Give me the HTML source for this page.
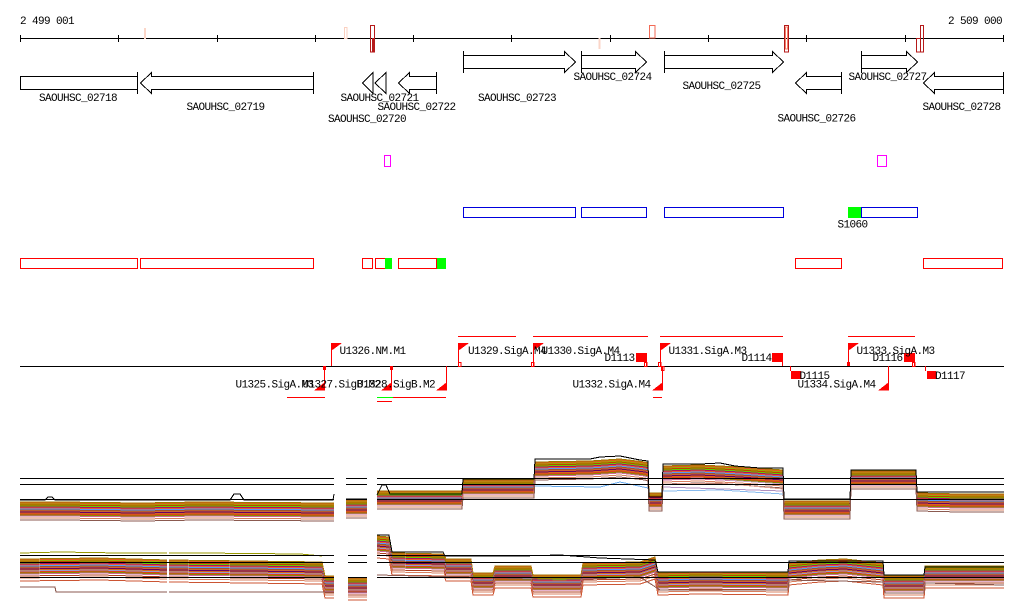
<!DOCTYPE html>
<html><head><meta charset="utf-8"><style>
html,body{margin:0;padding:0;background:#fff;}
svg{display:block;}
text{font-family:"Liberation Mono","DejaVu Sans Mono",monospace;font-size:11px;letter-spacing:-0.6px;fill:#000;}
</style></head><body>
<svg width="1024" height="611" viewBox="0 0 1024 611" xmlns="http://www.w3.org/2000/svg">
<rect width="1024" height="611" fill="#fff"/>
<defs>
<path id="T" fill="none" d="M20,502 L60,502 L140,503 L200,502 L334,503 M346,500 L367,500 M377,491 L462,491 L463,480 L534,480 L535,462 L590,461 L620,459 L645,462 L648,463 L649,493 L662,493 L663,466 L700,465 L720,466 L740,467 L783,470 L784,501 L850,501 L851,471 L916,471 L917,493 L960,494 L1004,494"/>
<path id="B" fill="none" d="M20,559 L100,558 L168,560 L250,561 L322,562 L325,576 L334,576 M348,578 L367,578 M377,536 L389,537 L392,553 L444,554 L446,559 L471,559 L473,573 L493,573 L495,566 L531,566 L533,575 L581,575 L583,563 L640,562 L655,557 L658,573 L700,572 L788,573 L789,563 L820,560 L845,559 L883,563 L884,576 L924,576 L925,566 L1004,566"/>
</defs>
<g shape-rendering="crispEdges">
<!-- axis -->
<g stroke="#000" stroke-width="1">
<line x1="20" y1="38.5" x2="1004" y2="38.5"/>
<path d="M20.5,35V42M118.5,35V42M217.5,35V42M315.5,35V42M413.5,35V42M511.5,35V42M610.5,35V42M708.5,35V42M806.5,35V42M905.5,35V42M1003.5,35V42"/>
</g>
<rect x="144" y="28" width="2" height="11" fill="#fbd6c8"/>
<rect x="344.5" y="27.5" width="2.5" height="11" fill="none" stroke="#fbd0c0"/>
<rect x="372" y="38" width="2" height="14" fill="#b51a1a"/>
<rect x="370.5" y="25.5" width="4" height="26.5" fill="none" stroke="#b51a1a"/>
<rect x="598.5" y="38" width="2" height="11" fill="#fbd6c8"/>
<rect x="649.5" y="25.5" width="5.5" height="12.5" fill="none" stroke="#f26a56"/>
<rect x="784.5" y="25.5" width="4" height="26.5" fill="none" stroke="#b51a1a"/>
<rect x="785.5" y="27" width="2" height="22" fill="none" stroke="#f4806a"/>
<rect x="916.5" y="38.5" width="4" height="13.5" fill="none" stroke="#b51a1a"/>
<rect x="920.5" y="25.5" width="3" height="26.5" fill="none" stroke="#b51a1a"/>

<!-- genes -->
<g fill="#fff" stroke="#000" stroke-width="1">
<rect x="20.5" y="76.5" width="117" height="13"/>
<line x1="137.5" y1="72" x2="137.5" y2="94"/>
<polygon points="140.5,83 151.5,72.5 151.5,76.5 313.5,76.5 313.5,89.5 151.5,89.5 151.5,93.5"/>
<line x1="313.5" y1="72" x2="313.5" y2="94"/>
<polygon points="362.5,83 373,72.5 373,93.5"/>
<polygon points="375,83 386,72.5 386,93.5"/>
<polygon points="398.5,83 409.5,72.5 409.5,76.5 436.5,76.5 436.5,89.5 409.5,89.5 409.5,93.5"/>
<line x1="436.5" y1="72" x2="436.5" y2="94"/>
<polygon points="795.5,83 806.5,72.5 806.5,76.5 841.5,76.5 841.5,89.5 806.5,89.5 806.5,93.5"/>
<line x1="841.5" y1="72" x2="841.5" y2="94"/>
<polygon points="923.5,83 934.5,72.5 934.5,76.5 1003.5,76.5 1003.5,89.5 934.5,89.5 934.5,93.5"/>
<line x1="1003.5" y1="72" x2="1003.5" y2="94"/>

<polygon points="463.5,55.5 564.5,55.5 564.5,51.5 575.5,62 564.5,72.5 564.5,68.5 463.5,68.5"/>
<line x1="463.5" y1="51" x2="463.5" y2="73"/>
<polygon points="581.5,55.5 635.5,55.5 635.5,51.5 646.5,62 635.5,72.5 635.5,68.5 581.5,68.5"/>
<line x1="581.5" y1="51" x2="581.5" y2="73"/>
<polygon points="664.5,55.5 772.5,55.5 772.5,51.5 783.5,62 772.5,72.5 772.5,68.5 664.5,68.5"/>
<line x1="664.5" y1="51" x2="664.5" y2="73"/>
<polygon points="861.5,55.5 906.5,55.5 906.5,51.5 917.5,62 906.5,72.5 906.5,68.5 861.5,68.5"/>
<line x1="861.5" y1="51" x2="861.5" y2="73"/>
</g>

<!-- magenta -->
<g fill="none" stroke="#ff00ff" stroke-width="1">
<rect x="384.5" y="155.5" width="6" height="11"/>
<rect x="877.5" y="155.5" width="9" height="11"/>
</g>
<!-- blue row -->
<g fill="none" stroke="#0000dd" stroke-width="1">
<rect x="463.5" y="207.5" width="112" height="10"/>
<rect x="581.5" y="207.5" width="65" height="10"/>
<rect x="664.5" y="207.5" width="119" height="10"/>
<rect x="861.5" y="207.5" width="56" height="10"/>
</g>
<rect x="848" y="207" width="13" height="11" fill="#00ff00"/>

<!-- red row -->
<g fill="none" stroke="#ff0000" stroke-width="1">
<rect x="20.5" y="258.5" width="117" height="10"/>
<rect x="140.5" y="258.5" width="173" height="10"/>
<rect x="362.5" y="258.5" width="10" height="10"/>
<rect x="375.5" y="258.5" width="10" height="10"/>
<rect x="398.5" y="258.5" width="38" height="10"/>
<rect x="795.5" y="258.5" width="46" height="10"/>
<rect x="923.5" y="258.5" width="79" height="10"/>
</g>
<rect x="385" y="258" width="7" height="11" fill="#00ff00"/>
<rect x="437" y="258" width="9" height="11" fill="#00ff00"/>

<!-- transcripts -->
<line x1="20" y1="366.5" x2="1004" y2="366.5" stroke="#000"/>
<g stroke="#ff0000" stroke-width="1" fill="none">
<path d="M458,336.5H516M533,336.5H648M660,336.5H783M848,336.5H915"/>
<path d="M287,397.5H325M393,397.5H446M377,401.5H392M653,397.5H662"/>
<path d="M331.5,343V366M458.5,343V366M533.5,343V366M660.5,343V366M848.5,343V366"/>
<path d="M324.5,366V390M391.5,366V390M446.5,366V390M662.5,366V390M888.5,366V390"/>
<path d="M646.5,362V366M782.5,362V366M914.5,362V366M790.5,366V371M925.5,366V371"/>
<rect x="458.5" y="362.5" width="2.5" height="4"/>
<rect x="531.5" y="362.5" width="2.5" height="4"/>
<rect x="644.5" y="362.5" width="2.5" height="4"/>
<rect x="658.5" y="362.5" width="2.5" height="4"/>
<rect x="661.5" y="366.5" width="2.5" height="4"/>
<rect x="912.5" y="362.5" width="2.5" height="4"/>
</g>
<line x1="377" y1="397.5" x2="393" y2="397.5" stroke="#00ff00"/>
<g fill="#ff0000">
<polygon points="331,343 342,343 331,351"/>
<polygon points="458,343 469,343 458,351"/>
<polygon points="533,343 544,343 533,351"/>
<polygon points="660,343 671,343 660,351"/>
<polygon points="848,343 859,343 848,351"/>
<polygon points="314,390.5 325,382 325,390.5"/>
<polygon points="381,390.5 392,382 392,390.5"/>
<polygon points="436,390.5 447,382 447,390.5"/>
<polygon points="652,390.5 663,382 663,390.5"/>
<polygon points="878,390.5 889,382 889,390.5"/>
<rect x="323" y="366" width="3" height="4"/>
<rect x="390" y="366" width="3" height="4"/>
<rect x="847" y="362" width="3" height="4"/>
<rect x="636" y="353" width="11" height="9"/>
<rect x="772" y="353" width="11" height="9"/>
<rect x="904" y="353" width="11" height="9"/>
<rect x="791" y="371" width="10" height="8"/>
<rect x="927" y="371" width="9" height="8"/>
</g>

<!-- data track top -->
<g stroke-width="1" fill="none">
<use href="#T" stroke="#9c7a00" transform="translate(0,0)"/>
<use href="#T" stroke="#e05a20" transform="translate(0,1)"/>
<use href="#T" stroke="#99aa00" transform="translate(0,2)"/>
<use href="#T" stroke="#c04000" transform="translate(0,3)"/>
<use href="#T" stroke="#66cc00" transform="translate(0,4)"/>
<use href="#T" stroke="#aa1166" transform="translate(0,5)"/>
<use href="#T" stroke="#e86030" transform="translate(0,6)"/>
<use href="#T" stroke="#5599ff" transform="translate(0,7)"/>
<use href="#T" stroke="#a0522d" transform="translate(0,8)"/>
<use href="#T" stroke="#cc6633" transform="translate(0,9)"/>
<use href="#T" stroke="#660066" transform="translate(0,10)"/>
<use href="#T" stroke="#d2691e" transform="translate(0,11)"/>
<use href="#T" stroke="#e0401a" transform="translate(0,12)"/>
<use href="#T" stroke="#888800" transform="translate(0,13)"/>
<use href="#T" stroke="#cc6699" transform="translate(0,14)"/>
<use href="#T" stroke="#d98060" transform="translate(0,16)"/>
<use href="#T" stroke="#8b5a50" transform="translate(0,18)"/>
<path stroke="#66aaee" d="M535,486 L600,487 L620,482 L648,488"/>
<path stroke="#c8a0c0" d="M663,479 L700,478 L740,481 L783,484"/>
<path stroke="#e0a090" d="M663,484 L720,483 L783,489"/>
<path stroke="#88bbee" d="M663,491 L720,490 L783,494"/>
<path stroke="#b090c0" d="M663,487 L783,491"/>
<path stroke="#000" d="M20,500 L45,500 L48,497 L52,497 L55,500 L230,500 L234,494 L240,494 L244,500 L333,500 L334,494 M346,499 L367,499 M377,495 L382,485 L386,485 L390,494 L462,494 L463,479 L534,479 L535,459 L590,459 L600,457 L620,456 L640,460 L648,461 L649,497 L662,497 L663,464 L700,464 L720,463 L735,466 L760,468 L783,468 L784,499 L850,499 L851,470 L916,470 L917,492 L1004,492"/>
</g>
<!-- data track bottom -->
<g stroke-width="1" fill="none">
<use href="#B" stroke="#9c7a00" transform="translate(0,0)"/>
<use href="#B" stroke="#e05a20" transform="translate(0,1)"/>
<use href="#B" stroke="#99aa00" transform="translate(0,2)"/>
<use href="#B" stroke="#c04000" transform="translate(0,3)"/>
<use href="#B" stroke="#66cc00" transform="translate(0,4)"/>
<use href="#B" stroke="#aa1166" transform="translate(0,5)"/>
<use href="#B" stroke="#e86030" transform="translate(0,6)"/>
<use href="#B" stroke="#5599ff" transform="translate(0,7)"/>
<use href="#B" stroke="#a0522d" transform="translate(0,8)"/>
<use href="#B" stroke="#cc6633" transform="translate(0,9)"/>
<use href="#B" stroke="#660066" transform="translate(0,10)"/>
<use href="#B" stroke="#d2691e" transform="translate(0,11)"/>
<use href="#B" stroke="#9999cc" transform="translate(0,12)"/>
<use href="#B" stroke="#e0401a" transform="translate(0,13)"/>
<use href="#B" stroke="#888800" transform="translate(0,14)"/>
<use href="#B" stroke="#cc6699" transform="translate(0,15)"/>
<use href="#B" stroke="#b04020" transform="translate(0,17)"/>
<use href="#B" stroke="#d98060" transform="translate(0,19)"/>
<use href="#B" stroke="#cc5533" transform="translate(0,22)"/>
<path stroke="#8b5a50" d="M20,587 L55,587 L56,592 L334,592 M348,592 L367,592 M377,575 L500,578 L560,580 L640,577 L660,590 L788,590 L789,580 L883,582 L885,593 L924,593 L925,583 L1004,585"/>
<path stroke="#999900" d="M20,553 L60,552 L120,553 L200,553 L300,554 L322,556"/>
<path stroke="#000" d="M377,535 L389,535 L392,552 L443,552 L445,556 L520,556 L560,555 L600,558 L655,560 L658,572 L788,572 L789,561 L883,561 L884,575 L924,575 L925,567 L1004,567"/>
</g>
<rect x="167" y="545" width="2" height="52" fill="#fff"/>
<!-- reference lines -->
<g stroke="#000" stroke-width="1">
<path d="M20,478.5H334M346,478.5H367M377,478.5H1004"/>
<path d="M20,484.5H334M346,484.5H367M377,484.5H1004"/>
<path d="M20,499.5H334M346,499.5H367M377,499.5H1004"/>
<path d="M20,555.5H334M348,555.5H367M377,555.5H1004"/>
<path d="M20,562.5H334M348,562.5H367M377,562.5H1004"/>
<path d="M20,577.5H334M348,577.5H367M377,577.5H1004"/>
</g>
</g>

<!-- text -->
<text x="20" y="24">2 499 001</text>
<text x="1002" y="24" text-anchor="end">2 509 000</text>
<text x="39" y="101">SAOUHSC_02718</text>
<text x="186.5" y="110">SAOUHSC_02719</text>
<text x="340.5" y="101">SAOUHSC_02721</text>
<text x="377.5" y="110">SAOUHSC_02722</text>
<text x="328" y="122">SAOUHSC_02720</text>
<text x="478" y="101">SAOUHSC_02723</text>
<text x="573.5" y="80">SAOUHSC_02724</text>
<text x="682.5" y="89">SAOUHSC_02725</text>
<text x="777.5" y="121.5">SAOUHSC_02726</text>
<text x="848.5" y="80">SAOUHSC_02727</text>
<text x="922.5" y="110">SAOUHSC_02728</text>
<text x="837.5" y="227.5">S1060</text>
<text x="339.5" y="354">U1326.NM.M1</text>
<text x="468" y="354">U1329.SigA.M4</text>
<text x="541.5" y="354">U1330.SigA.M4</text>
<text x="668.5" y="354">U1331.SigA.M3</text>
<text x="856.5" y="354">U1333.SigA.M3</text>
<text x="604.5" y="361">D1113</text>
<text x="741.5" y="361">D1114</text>
<text x="872.5" y="361">D1116</text>
<text x="235.5" y="387.5">U1325.SigA.M3</text>
<text x="302.5" y="387.5">U1327.SigB.M2</text>
<text x="357" y="387.5">U1328.SigB.M2</text>
<text x="572.5" y="387.5">U1332.SigA.M4</text>
<text x="797.5" y="387.5">U1334.SigA.M4</text>
<text x="799.5" y="379">D1115</text>
<text x="935" y="379">D1117</text>
</svg>
</body></html>
